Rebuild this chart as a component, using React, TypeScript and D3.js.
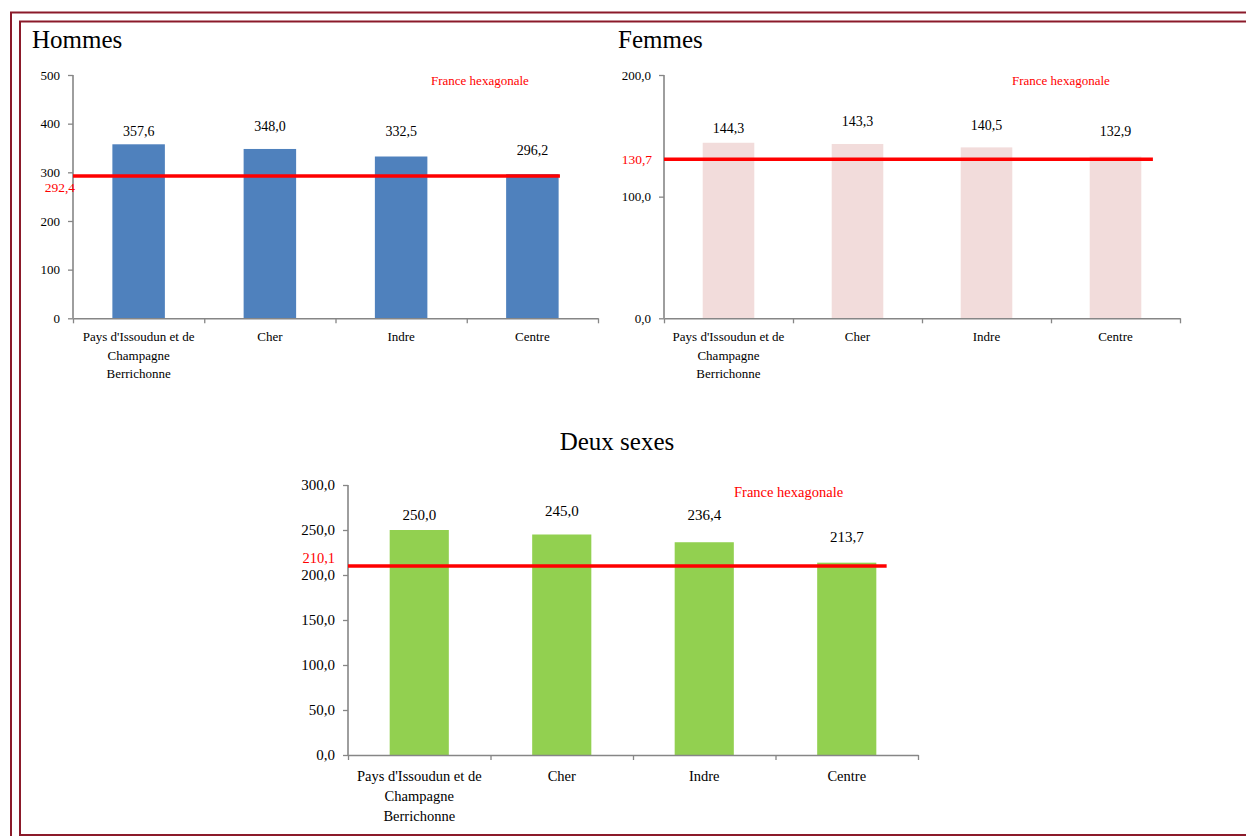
import React, { useEffect, useRef } from "react";
import * as d3 from "d3";

// Categories (multi-line labels) and series values
const categoryLines: string[][] = [
  ["Pays d'Issoudun et de", "Champagne", "Berrichonne"],
  ["Cher"],
  ["Indre"],
  ["Centre"],
];
const categories = categoryLines.map((l) => l.join(" "));

const hommesValues = [357.6, 348.0, 332.5, 296.2];
const hommesReference = 292.4;
const hommesTicks = [0, 100, 200, 300, 400, 500];

const femmesValues = [144.3, 143.3, 140.5, 132.9];
const femmesReference = 130.7;
const femmesTicks = [0, 100, 200];

const deuxSexesValues = [250.0, 245.0, 236.4, 213.7];
const deuxSexesReference = 210.1;
const deuxSexesTicks = [0, 50, 100, 150, 200, 250, 300];

const referenceLabel = "France hexagonale";

const FONT = "'Liberation Serif', 'DejaVu Serif', serif";
const frLocale = d3.formatLocale({
  decimal: ",",
  thousands: " ",
  grouping: [3],
  currency: ["", " €"],
});
const fmt1 = frLocale.format(".1f");
const fmt0 = frLocale.format(".0f");

type Panel = {
  title: string;
  titleX: number;
  titleY: number;
  titleAnchor: string;
  values: number[];
  reference: number;
  ticks: number[];
  tickFormat: (v: number) => string;
  color: string;
  left: number;
  right: number;
  top: number;
  bottom: number;
  padInner: number;
  tickFont: number;
  valueFont: number;
  valueGaps: number[];
  catFont: number;
  catBaseline: number;
  catLineHeight: number;
  refLabelX: number;
  refLabelDy: number;
  refLabelFont: number;
  refNameX: number;
  refNameY: number;
  refNameFont: number;
  lineEnd: number;
};

const panels: Panel[] = [
  {
    title: "Hommes",
    titleX: 32,
    titleY: 48,
    titleAnchor: "start",
    values: hommesValues,
    reference: hommesReference,
    ticks: hommesTicks,
    tickFormat: fmt0,
    color: "#4F81BD",
    left: 73,
    right: 598,
    top: 75,
    bottom: 318.3,
    padInner: 0.6,
    tickFont: 13,
    valueFont: 14,
    valueGaps: [8, 18, 21, 19],
    catFont: 13,
    catBaseline: 341,
    catLineHeight: 18.5,
    refLabelX: 75,
    refLabelDy: 16,
    refLabelFont: 13.5,
    refNameX: 431,
    refNameY: 85,
    refNameFont: 13,
    lineEnd: 0.21,
  },
  {
    title: "Femmes",
    titleX: 618,
    titleY: 48,
    titleAnchor: "start",
    values: femmesValues,
    reference: femmesReference,
    ticks: femmesTicks,
    tickFormat: fmt1,
    color: "#F2DCDB",
    left: 664,
    right: 1180,
    top: 75,
    bottom: 318.3,
    padInner: 0.6,
    tickFont: 13,
    valueFont: 14,
    valueGaps: [10, 18, 17, 21],
    catFont: 13,
    catBaseline: 341,
    catLineHeight: 18.5,
    refLabelX: 652,
    refLabelDy: 5,
    refLabelFont: 13.5,
    refNameX: 1012,
    refNameY: 85,
    refNameFont: 13,
    lineEnd: 0.29,
  },
  {
    title: "Deux sexes",
    titleX: 617,
    titleY: 450,
    titleAnchor: "middle",
    values: deuxSexesValues,
    reference: deuxSexesReference,
    ticks: deuxSexesTicks,
    tickFormat: fmt1,
    color: "#92D050",
    left: 348,
    right: 918,
    top: 485,
    bottom: 755,
    padInner: 0.585,
    tickFont: 15,
    valueFont: 15,
    valueGaps: [10, 19, 22, 21],
    catFont: 14.5,
    catBaseline: 781,
    catLineHeight: 20,
    refLabelX: 335,
    refLabelDy: -3,
    refLabelFont: 14.5,
    refNameX: 734,
    refNameY: 497,
    refNameFont: 14.5,
    lineEnd: 0.28,
  },
];

const AXIS = "#868686";
const RED = "#FF0000";
const FRAME = "#8B1A2A";

function drawPanel(svg: d3.Selection<SVGSVGElement, unknown, null, undefined>, p: Panel) {
  const g = svg.append("g").style("font-family", FONT);
  const x = d3
    .scaleBand<string>()
    .domain(categories)
    .range([p.left, p.right])
    .paddingInner(p.padInner)
    .paddingOuter(p.padInner / 2);
  const y = d3
    .scaleLinear()
    .domain([0, p.ticks[p.ticks.length - 1]])
    .range([p.bottom, p.top]);

  // title
  g.append("text")
    .attr("x", p.titleX)
    .attr("y", p.titleY)
    .attr("text-anchor", p.titleAnchor)
    .attr("font-size", 25)
    .attr("fill", "#000")
    .text(p.title);

  // bars
  g.selectAll("rect.bar")
    .data(p.values)
    .join("rect")
    .attr("class", "bar")
    .attr("x", (_, i) => x(categories[i])!)
    .attr("width", x.bandwidth())
    .attr("y", (d) => y(d))
    .attr("height", (d) => y(0) - y(d))
    .attr("fill", p.color);

  // value labels
  g.selectAll("text.val")
    .data(p.values)
    .join("text")
    .attr("class", "val")
    .attr("x", (_, i) => x(categories[i])! + x.bandwidth() / 2)
    .attr("y", (d, i) => y(d) - p.valueGaps[i])
    .attr("text-anchor", "middle")
    .attr("font-size", p.valueFont)
    .attr("fill", "#000")
    .text((d) => fmt1(d));

  // y axis
  const yAxis = d3
    .axisLeft(y)
    .tickValues(p.ticks)
    .tickFormat((d) => p.tickFormat(d as number))
    .tickSize(5)
    .tickPadding(8);
  const ya = g.append("g").attr("transform", `translate(${p.left},0)`).call(yAxis);
  ya.select(".domain").attr("stroke", AXIS).attr("stroke-width", 1.6).attr("d", `M0,${p.top}V${p.bottom}`);
  ya.selectAll(".tick line").attr("stroke", AXIS).attr("stroke-width", 1.3);
  ya.selectAll(".tick text")
    .attr("font-family", FONT)
    .attr("font-size", p.tickFont)
    .attr("fill", "#000");

  // x axis with tick marks on category boundaries
  const step = x.step();
  const bounds = d3.range(categories.length + 1).map((i) => p.left + i * step);
  const boundary = d3.scaleLinear().domain([p.left, p.right]).range([p.left, p.right]);
  const xAxis = d3.axisBottom(boundary).tickValues(bounds).tickFormat(() => "").tickSize(5).tickSizeOuter(0);
  const xa = g.append("g").attr("transform", `translate(0,${p.bottom})`).call(xAxis);
  xa.select(".domain").attr("stroke", AXIS).attr("stroke-width", 1.6);
  xa.selectAll(".tick line").attr("stroke", AXIS).attr("stroke-width", 1.3);

  // category labels
  categoryLines.forEach((lines, i) => {
    const cx = x(categories[i])! + x.bandwidth() / 2;
    const t = g
      .append("text")
      .attr("text-anchor", "middle")
      .attr("font-size", p.catFont)
      .attr("fill", "#000");
    lines.forEach((line, j) => {
      t.append("tspan")
        .attr("x", cx)
        .attr("y", p.catBaseline + j * p.catLineHeight)
        .text(line);
    });
  });

  // reference line (France hexagonale)
  const ly = y(p.reference);
  const lastCenter = x(categories[categories.length - 1])! + x.bandwidth() / 2;
  g.append("line")
    .attr("x1", p.left)
    .attr("x2", lastCenter + p.lineEnd * step)
    .attr("y1", ly)
    .attr("y2", ly)
    .attr("stroke", RED)
    .attr("stroke-width", 3.5);

  g.append("text")
    .attr("x", p.refLabelX)
    .attr("y", ly + p.refLabelDy)
    .attr("text-anchor", "end")
    .attr("font-size", p.refLabelFont)
    .attr("fill", RED)
    .text(fmt1(p.reference));

  g.append("text")
    .attr("x", p.refNameX)
    .attr("y", p.refNameY)
    .attr("font-size", p.refNameFont)
    .attr("fill", RED)
    .text(referenceLabel);
}

export default function App() {
  const ref = useRef<SVGSVGElement>(null);

  useEffect(() => {
    const svg = d3.select(ref.current!);
    svg.selectAll("*").remove();

    svg.append("rect").attr("width", 1246).attr("height", 836).attr("fill", "#fff");

    // double frame
    svg
      .append("path")
      .attr("d", "M11,836V12.5H1246")
      .attr("fill", "none")
      .attr("stroke", FRAME)
      .attr("stroke-width", 2);
    svg
      .append("path")
      .attr("d", "M1246,835H20V21.5H1246")
      .attr("fill", "none")
      .attr("stroke", FRAME)
      .attr("stroke-width", 2);

    panels.forEach((p) => drawPanel(svg, p));
  }, []);

  return (
    <svg
      ref={ref}
      width={1246}
      height={836}
      style={{ position: "absolute", left: 0, top: 0, display: "block" }}
    />
  );
}
